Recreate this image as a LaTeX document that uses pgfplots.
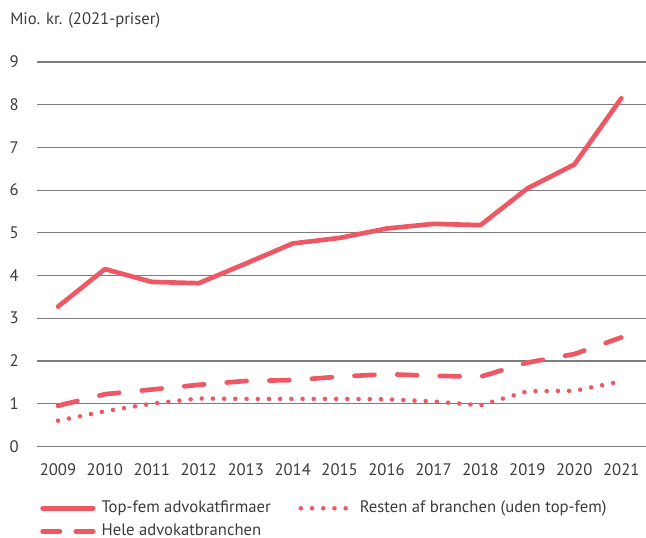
\documentclass[border=0pt]{standalone}
\usepackage{fontspec}
\setmainfont{PT Sans}
\usepackage{pgfplots}
\pgfplotsset{compat=1.18}
\definecolor{lred}{RGB}{238,88,100}
\definecolor{txt}{RGB}{60,60,60}
\definecolor{grid}{RGB}{125,125,125}
\pgfplotsset{
 legsolid/.style={legend image code/.code={\draw[##1] (0pt,0pt) -- (38pt,0pt);}},
 legdot/.style={legend image code/.code={\draw[##1] (0pt,0pt) -- (38pt,0pt);}},
 legdash/.style={legend image code/.code={\draw[##1, dash pattern=on 13pt off 12pt] (0pt,0pt) -- (38pt,0pt);}},
}
\begin{document}
\fontsize{12.5}{15}\selectfont
\begin{tikzpicture}
\begin{axis}[
 scale only axis, width=456.75pt, height=288.2pt,
 xmin=2008.553, xmax=2021.526, ymin=0, ymax=9,
 xtick={2009,...,2021}, ytick={0,...,9},
 /pgf/number format/1000 sep={},
 /pgf/number format/assume math mode=true,
 axis line style={draw=none},
 major tick length=0pt,
 ymajorgrids, grid style={draw=grid, line width=0.9pt},
 tick label style={font=\fontsize{12.5}{15}\selectfont, text=txt, inner sep=0pt},
 yticklabel style={anchor=east, xshift=-13.5pt},
 xticklabel style={anchor=north, yshift=-13pt},
 legend columns=2,
 legend cell align=left,
 legend style={at={(axis description cs:0,0)}, anchor=north west, xshift=2.25pt, yshift=-40.3pt,
   draw=none, fill=none, inner sep=0pt, row sep=5.25pt, column sep=0pt,
   nodes={inner sep=0pt, text height=9pt, text depth=3pt, text=txt, font=\fontsize{12.5}{15}\selectfont},
   /tikz/every odd column/.append style={column sep=4.5pt}},
 every axis plot/.append style={lred, line width=3.5pt, line cap=round, line join=round},
]
\coordinate (O) at (rel axis cs:0,0);
\coordinate (T) at (rel axis cs:0,1);
\addplot[legsolid] coordinates {
(2009,3.27) (2010,4.15) (2011,3.85) (2012,3.82) (2013,4.28) (2014,4.75) (2015,4.88)
(2016,5.10) (2017,5.21) (2018,5.18) (2019,6.04) (2020,6.60) (2021,8.15)};
\addlegendentry{\makebox[147.75pt][l]{Top-fem advokatfirmaer}}
\addplot[line width=3.4pt, dash pattern=on 0pt off 8.4pt, legdot] coordinates {
(2009,0.60) (2010,0.82) (2011,1.00) (2012,1.12) (2013,1.11) (2014,1.11) (2015,1.11)
(2016,1.10) (2017,1.05) (2018,0.96) (2019,1.29) (2020,1.30) (2021,1.52)};
\addlegendentry{Resten af branchen (uden top-fem)}
\addplot[dash pattern=on 15pt off 17pt, legdash] coordinates {
(2009,0.95) (2010,1.22) (2011,1.33) (2012,1.44) (2013,1.53) (2014,1.55) (2015,1.63)
(2016,1.69) (2017,1.65) (2018,1.63) (2019,1.96) (2020,2.16) (2021,2.55)};
\addlegendentry{Hele advokatbranchen}
\end{axis}
\node[anchor=base west, inner sep=0pt, text=txt] at ([shift={(-20.25pt,28.5pt)}]T) {Mio. kr. (2021-priser)};
\pgfresetboundingbox
\path ([shift={(-27.75pt,-68.775pt)}]O) rectangle ++(484.5pt,403.5pt);
\end{tikzpicture}
\end{document}
